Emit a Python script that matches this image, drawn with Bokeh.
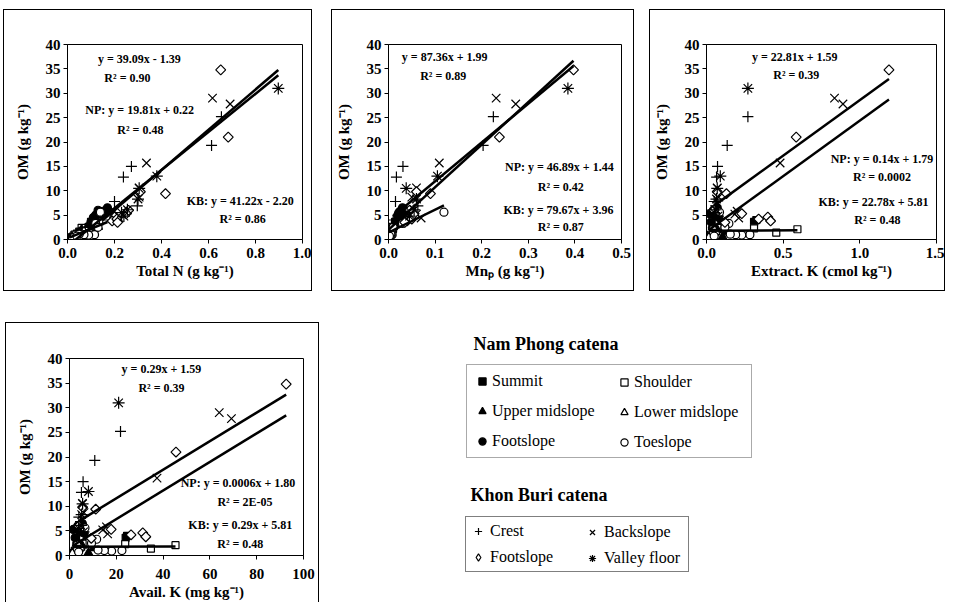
import math
from bokeh.plotting import figure
from bokeh.models import (Range1d, FixedTicker, PrintfTickFormatter, Label, Legend,
                          LegendItem, Spacer)
from bokeh.layouts import row, column
from bokeh.embed import file_html
from bokeh.resources import INLINE

FONT = "Liberation Serif"

# ---------------- data ----------------
np_summit_om = [4.0, 3.6, 1.6, 0.9, 0.5, 1.2]
np_summit_n = [0.12, 0.10, 0.05, 0.03, 0.02, 0.04]
np_summit_mn = [0.021, 0.014, 0.006, 0.003, 0.002, 0.004]
np_summit_extk = [0.325, 0.31, 0.06, 0.03, 0.02, 0.045]
np_summit_avk = [24.6, 24.0, 4.5, 2.2, 1.6, 3.4]

np_shoulder_om = [2.1, 1.4, 2.3, 2.6, 2.4, 1.0]
np_shoulder_n = [0.07, 0.095, 0.08, 0.09, 0.06, 0.03]
np_shoulder_mn = [0.004, 0.003, 0.006, 0.008, 0.01, 0.002]
np_shoulder_extk = [0.593, 0.455, 0.31, 0.105, 0.072, 0.03]
np_shoulder_avk = [45.3, 34.8, 23.8, 8.3, 5.6, 2.4]

np_upper_om = [1.5, 0.5, 3.0, 0.3, 2.0]
np_upper_n = [0.05, 0.02, 0.09, 0.01, 0.06]
np_upper_mn = [0.005, 0.002, 0.015, 0.001, 0.008]
np_upper_extk = [0.13, 0.105, 0.04, 0.02, 0.07]
np_upper_avk = [10.2, 8.1, 3.2, 1.5, 5.4]

np_lower_om = [1.6, 2.6, 1.2, 0.4]
np_lower_n = [0.07, 0.13, 0.10, 0.02]
np_lower_mn = [0.006, 0.01, 0.004, 0.002]
np_lower_extk = [0.06, 0.04, 0.035, 0.015]
np_lower_avk = [4.7, 3.2, 2.8, 1.2]

np_foot_om = [6.5, 5.8, 5.0, 4.5, 6.0, 3.6, 5.5, 5.3]
np_foot_n = [0.17, 0.15, 0.12, 0.11, 0.13, 0.10, 0.16, 0.14]
np_foot_mn = [0.03, 0.025, 0.02, 0.028, 0.035, 0.015, 0.022, 0.04]
np_foot_extk = [0.07, 0.05, 0.055, 0.08, 0.045, 0.03, 0.065, 0.02]
np_foot_avk = [5.5, 4.0, 4.3, 6.3, 3.5, 2.4, 5.1, 1.6]

np_toe_om = [5.6, 3.3, 1.0, 0.9, 1.0, 1.1, 0.7, 2.5]
np_toe_n = [0.14, 0.12, 0.115, 0.09, 0.07, 0.05, 0.04, 0.13]
np_toe_mn = [0.119, 0.03, 0.008, 0.006, 0.004, 0.005, 0.002, 0.01]
np_toe_extk = [0.085, 0.146, 0.283, 0.23, 0.19, 0.155, 0.05, 0.12]
np_toe_avk = [6.6, 11.6, 22.4, 18.0, 14.9, 12.2, 3.9, 9.4]

kb_crest_om = [25.2, 19.3, 15.0, 12.8, 7.8, 6.9, 4.0]
kb_crest_n = [0.655, 0.613, 0.272, 0.238, 0.20, 0.297, 0.15]
kb_crest_mn = [0.225, 0.203, 0.031, 0.017, 0.015, 0.063, 0.01]
kb_crest_extk = [0.27, 0.135, 0.072, 0.066, 0.05, 0.06, 0.055]
kb_crest_avk = [21.8, 10.8, 5.8, 5.1, 4.0, 4.7, 4.3]

kb_back_om = [29.0, 27.8, 15.7, 10.6, 5.8, 5.2, 4.4, 8.7]
kb_back_n = [0.617, 0.692, 0.336, 0.305, 0.20, 0.18, 0.22, 0.305]
kb_back_mn = [0.231, 0.273, 0.109, 0.06, 0.05, 0.06, 0.07, 0.05]
kb_back_extk = [0.835, 0.89, 0.48, 0.07, 0.20, 0.185, 0.21, 0.08]
kb_back_avk = [64.0, 69.2, 37.4, 5.5, 15.8, 14.2, 16.3, 6.2]

kb_foot_om = [34.8, 21.0, 9.4, 4.6, 3.8, 4.2, 5.3, 3.5, 9.8, 6.0]
kb_foot_n = [0.652, 0.684, 0.417, 0.20, 0.19, 0.21, 0.25, 0.213, 0.31, 0.26]
kb_foot_mn = [0.397, 0.238, 0.09, 0.045, 0.04, 0.05, 0.055, 0.035, 0.06, 0.045]
kb_foot_extk = [1.19, 0.585, 0.13, 0.40, 0.418, 0.34, 0.23, 0.12, 0.07, 0.05]
kb_foot_avk = [92.6, 45.5, 11.2, 31.3, 32.6, 26.3, 17.8, 9.3, 5.6, 4.0]

kb_valley_om = [31.0, 13.0, 10.5, 8.3, 6.1, 5.5, 4.8]
kb_valley_n = [0.897, 0.38, 0.305, 0.30, 0.255, 0.23, 0.24]
kb_valley_mn = [0.385, 0.105, 0.038, 0.06, 0.055, 0.04, 0.045]
kb_valley_extk = [0.27, 0.09, 0.07, 0.065, 0.06, 0.05, 0.075]
kb_valley_avk = [21.0, 8.1, 5.6, 5.2, 4.9, 3.9, 6.0]

# regression equations (slope, intercept): all points, Nam Phong, Khon Buri
coef_a = [(39.09, -1.39), (19.81, 0.22), (41.22, -2.20)]
coef_b = [(87.36, 1.99), (46.89, 1.44), (79.67, 3.96)]
coef_c = [(22.81, 1.59), (0.14, 1.79), (22.78, 5.81)]
coef_d = [(0.29, 1.59), (0.0006, 1.80), (0.29, 5.81)]

eq_a = ["y = 39.09x - 1.39", "R² = 0.90", "NP: y = 19.81x + 0.22", "R² = 0.48",
        "KB: y = 41.22x - 2.20", "R² = 0.86"]
eq_b = ["y = 87.36x + 1.99", "R² = 0.89", "NP: y = 46.89x + 1.44", "R² = 0.42",
        "KB: y = 79.67x + 3.96", "R² = 0.87"]
eq_c = ["y = 22.81x + 1.59", "R² = 0.39", "NP: y = 0.14x + 1.79", "R² = 0.0002",
        "KB: y = 22.78x + 5.81", "R² = 0.48"]
eq_d = ["y = 0.29x + 1.59", "R² = 0.39", "NP: y = 0.0006x + 1.80", "R² = 2E-05",
        "KB: y = 0.29x + 5.81", "R² = 0.48"]

y_ticks = [0, 5, 10, 15, 20, 25, 30, 35, 40]
x_ticks_a = [0.0, 0.2, 0.4, 0.6, 0.8, 1.0]
x_ticks_b = [0.0, 0.1, 0.2, 0.3, 0.4, 0.5]
x_ticks_c = [0.0, 0.5, 1.0, 1.5]
x_ticks_d = [0, 20, 40, 60, 80, 100]

np_names = ["Summit", "Shoulder", "Upper midslope", "Lower midslope", "Footslope", "Toeslope"]
kb_names = ["Crest", "Backslope", "Footslope", "Valley floor"]

NP = {
    "Summit": (np_summit_om, np_summit_n, np_summit_mn, np_summit_extk, np_summit_avk),
    "Shoulder": (np_shoulder_om, np_shoulder_n, np_shoulder_mn, np_shoulder_extk, np_shoulder_avk),
    "Upper midslope": (np_upper_om, np_upper_n, np_upper_mn, np_upper_extk, np_upper_avk),
    "Lower midslope": (np_lower_om, np_lower_n, np_lower_mn, np_lower_extk, np_lower_avk),
    "Footslope": (np_foot_om, np_foot_n, np_foot_mn, np_foot_extk, np_foot_avk),
    "Toeslope": (np_toe_om, np_toe_n, np_toe_mn, np_toe_extk, np_toe_avk),
}
KB = {
    "Crest": (kb_crest_om, kb_crest_n, kb_crest_mn, kb_crest_extk, kb_crest_avk),
    "Backslope": (kb_back_om, kb_back_n, kb_back_mn, kb_back_extk, kb_back_avk),
    "Footslope": (kb_foot_om, kb_foot_n, kb_foot_mn, kb_foot_extk, kb_foot_avk),
    "Valley floor": (kb_valley_om, kb_valley_n, kb_valley_mn, kb_valley_extk, kb_valley_avk),
}

NP_STYLE = {
    "Summit": dict(marker="square", size=7, fill_color="black"),
    "Shoulder": dict(marker="square", size=7, fill_color="white"),
    "Upper midslope": dict(marker="triangle", size=9, fill_color="black"),
    "Lower midslope": dict(marker="triangle", size=9, fill_color="white"),
    "Footslope": dict(marker="circle", size=8, fill_color="black"),
    "Toeslope": dict(marker="circle", size=8, fill_color="white"),
}
KB_STYLE = {
    "Crest": dict(marker="cross", size=11, fill_color="white"),
    "Backslope": dict(marker="x", size=12, fill_color="white"),
    "Footslope": dict(marker="square", size=7, angle=math.pi / 4, fill_color="white"),
    "Valley floor": dict(marker="asterisk", size=12, fill_color="white"),
}


def make_panel(tag, var_idx, xlabel, xmax, xticks, xfmt, coefs, eqs, eq_pos, title_xy,
               width, height, mb, styles, xlab_standoff=4):
    p = figure(width=width, height=height, x_range=Range1d(0, xmax), y_range=Range1d(0, 40),
               output_backend="svg", toolbar_location=None,
               min_border_left=mb[0], min_border_right=mb[1],
               min_border_top=mb[2], min_border_bottom=mb[3],
               background_fill_color="white", border_fill_color="white",
               styles=styles)
    p.frame_align = False
    p.grid.visible = False
    p.outline_line_color = "black"
    p.outline_line_width = 1
    p.outline_line_alpha = 1
    fw = width - mb[0] - mb[1]
    fh = height - mb[2] - mb[3]

    p.xaxis.ticker = FixedTicker(ticks=xticks)
    p.xaxis.formatter = PrintfTickFormatter(format=xfmt)
    p.yaxis.ticker = FixedTicker(ticks=y_ticks)
    p.yaxis.formatter = PrintfTickFormatter(format="%d")
    p.xaxis.axis_label = xlabel
    p.yaxis.axis_label = "OM (g kg⁻¹)"
    for ax in (p.xaxis, p.yaxis):
        ax.axis_line_color = "black"
        ax.major_tick_line_color = "black"
        ax.major_tick_out = 4
        ax.major_tick_in = 0
        ax.minor_tick_out = 0
        ax.minor_tick_in = 0
        ax.major_label_text_font = FONT
        ax.major_label_text_font_style = "bold"
        ax.major_label_text_font_size = "15px"
        ax.major_label_text_color = "black"
        ax.axis_label_text_font = FONT
        ax.axis_label_text_font_style = "bold"
        ax.axis_label_text_font_size = "15px"
        ax.axis_label_text_color = "black"
    p.xaxis.major_label_standoff = xlab_standoff
    p.xaxis.axis_label_standoff = 2
    p.yaxis.major_label_standoff = 3
    p.yaxis.axis_label_standoff = 12

    for name in np_names:
        d = NP[name]
        p.scatter(x=d[var_idx], y=d[0], line_color="black", line_width=1.2, **NP_STYLE[name])
    for name in kb_names:
        d = KB[name]
        p.scatter(x=d[var_idx], y=d[0], line_color="black", line_width=1.2, **KB_STYLE[name])

    np_x = [v for name in np_names for v in NP[name][var_idx]]
    kb_x = [v for name in kb_names for v in KB[name][var_idx]]
    all_x = np_x + kb_x
    for xs, (m, b) in zip([all_x, np_x, kb_x], coefs):
        x0, x1 = min(xs), max(xs)
        p.line([x0, x1], [m * x0 + b, m * x1 + b], line_color="black", line_width=2.5)

    for txt, (ex, ey) in zip(eqs, eq_pos):
        p.add_layout(Label(x=ex / xmax * fw, y=ey / 40 * fh, x_units="screen", y_units="screen",
                           text=txt, text_align="center", text_baseline="middle",
                           text_font=FONT, text_font_style="bold", text_font_size="12px",
                           text_color="black"))
    p.add_layout(Label(x=title_xy[0], y=title_xy[1], x_units="screen", y_units="screen",
                       text=tag, text_align="center", text_baseline="middle",
                       text_font=FONT, text_font_style="bold", text_font_size="15px",
                       text_color="black"))
    return p


BOX = {"border": "1px solid black"}
BOX_D = {"border-top": "1px solid black", "border-left": "1px solid black",
         "border-right": "1px solid black"}

pa = make_panel("(a)", 1, "Total N (g kg⁻¹)", 1.0, x_ticks_a, "%.1f", coef_a, eq_a,
                [(0.306, 37.1), (0.255, 33.2), (0.307, 26.5), (0.31, 22.5), (0.735, 8.0), (0.745, 4.3)],
                (99, 221), 309, 282, (63, 11, 34, 53), BOX)
pb = make_panel("(b)", 2, "Mnₚ (g kg⁻¹)", 0.5, x_ticks_b, "%.1f", coef_b, eq_b,
                [(0.119, 37.4), (0.116, 33.6), (0.362, 14.8), (0.365, 10.7), (0.36, 6.1), (0.365, 2.5)],
                (105, 221), 303, 282, (53, 14, 34, 53), BOX)
pc = make_panel("(c)", 3, "Extract. K (cmol kg⁻¹)", 1.5, x_ticks_c, "%.1f", coef_c, eq_c,
                [(0.568, 37.4), (0.578, 33.8), (1.13, 16.5), (1.13, 12.8), (1.075, 7.7), (1.10, 3.9)],
                (90, 221), 296, 282, (53, 10, 34, 53), BOX)
pd = make_panel("(d)", 4, "Avail. K (mg kg⁻¹)", 100, x_ticks_d, "%d", coef_d, eq_d,
                [(39.3, 37.8), (39.3, 34.0), (72, 14.8), (75, 10.9), (73, 6.1), (73, 2.4)],
                (94, 224), 314, 280, (63, 17, 35, 48), BOX_D, xlab_standoff=9)

# ---------------- legend panel ----------------
pl = figure(width=530, height=281, x_range=Range1d(0, 1), y_range=Range1d(0, 1),
            x_axis_location=None, y_axis_location=None, title=None,
            output_backend="svg", toolbar_location=None,
            min_border_left=0, min_border_right=0, min_border_top=0, min_border_bottom=0,
            border_fill_color="white", background_fill_color="white")
pl.frame_align = False
pl.grid.visible = False
pl.outline_line_color = None


def legend_items(names, styles, swap_diamond=False):
    items = []
    for name in names:
        st = dict(styles[name])
        if swap_diamond and name == "Footslope":
            st = dict(marker="diamond", size=9, fill_color="white")
        # legend-only renderer: one point outside the visible range
        r = pl.scatter(x=[-5], y=[-5], line_color="black", line_width=1.2, **st)
        items.append(LegendItem(label=name, renderers=[r]))
    return items


def make_legend(items, loc, padding, spacing, gh, standoff, lw, border):
    return Legend(items=items, location=loc, orientation="vertical",
                  padding=padding, spacing=spacing, glyph_width=18, glyph_height=gh,
                  label_height=gh, label_standoff=standoff, label_width=lw, margin=0,
                  label_text_font=FONT, label_text_font_size="16px", label_text_color="black",
                  border_line_color=border[0] if border else None,
                  border_line_width=border[1] if border else 1,
                  background_fill_color="white",
                  background_fill_alpha=1 if border else 0)


np_col1 = legend_items(["Summit", "Upper midslope", "Footslope"], NP_STYLE)
np_col2 = legend_items(["Shoulder", "Lower midslope", "Toeslope"], NP_STYLE)
kb_col1 = legend_items(["Crest", "Footslope"], KB_STYLE, swap_diamond=True)
kb_col2 = legend_items(["Backslope", "Valley floor"], KB_STYLE, swap_diamond=True)

pl.add_layout(make_legend(np_col1, (47, 145), 6, 10, 20, 1, 253, ("#555555", 1.5)))
pl.add_layout(make_legend(np_col2, (196, 151), 6, 10, 20, 1, 110, None))
pl.add_layout(make_legend(kb_col1, (46, 31), 3, 4, 22, 3, 195, ("black", 1)))
pl.add_layout(make_legend(kb_col2, (164, 34), 3, 4, 22, 3, 90, None))

pl.add_layout(Label(x=54, y=260, x_units="screen", y_units="screen", text="Nam Phong catena",
                    text_align="left", text_baseline="middle", text_font=FONT,
                    text_font_style="bold", text_font_size="18px", text_color="black"))
pl.add_layout(Label(x=51, y=109, x_units="screen", y_units="screen", text="Khon Buri catena",
                    text_align="left", text_baseline="middle", text_font=FONT,
                    text_font_style="bold", text_font_size="18px", text_color="black"))

layout = column(
    Spacer(width=10, height=9),
    row(Spacer(width=3, height=10), pa, Spacer(width=19, height=10), pb,
        Spacer(width=15, height=10), pc),
    Spacer(width=10, height=31),
    row(Spacer(width=5, height=10), pd, Spacer(width=100, height=10), pl),
)

open("out.html", "w").write(file_html(layout, INLINE))
